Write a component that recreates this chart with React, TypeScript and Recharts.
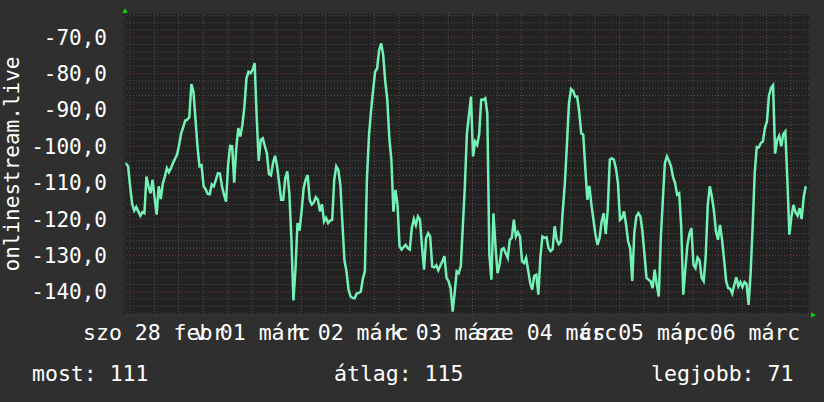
import React from 'react';
import { LineChart, Line, XAxis, YAxis, ReferenceLine, CartesianGrid } from 'recharts';

// half-hourly samples, starting Sat 28 Feb ~04:35
const values: number[] = [
  -104.5, -104.8, -105.5, -111, -115.8, -117.7, -116.7, -117.9, -119.1, -118.1,
  -118.4, -108.3, -111, -112.9, -109.2, -114.2, -118.8, -111, -114.5, -110.3,
  -108.3, -106, -107.1, -106, -104.6, -103.4, -102.3, -99.6, -96.4, -94.8,
  -92.9, -92.7, -92, -82.9, -84.9, -92.3, -100, -105.5, -105.2, -111,
  -111.8, -113.1, -113.2, -110.5, -111, -109.2, -107.4, -107.5, -111, -113.3,
  -115.2, -105.1, -99.9, -100, -110, -100.5, -95, -97.3, -94.1, -89.1,
  -81.3, -79.5, -79.9, -79, -77.1, -91.8, -104, -98.2, -97.8, -99.9,
  -101.9, -107.6, -108, -104.6, -102.6, -105.5, -110.1, -114.7, -114.7, -108.8,
  -106.9, -112.9, -125.2, -142.4, -133.9, -121.1, -123.2, -117.9, -111.5, -109.2,
  -107.9, -114.8, -116, -115.4, -114, -114.7, -117.9, -115.9, -120.7, -119.7,
  -121.1, -120.4, -120.2, -109.2, -105.5, -106.5, -110.6, -121.1, -131.4, -134.4,
  -139.4, -141.3, -141.7, -141.8, -140.5, -140.3, -140, -136.5, -134.4, -109.2,
  -97.3, -90.4, -84.9, -79.5, -78.6, -73.5, -71.7, -74.9, -82.2, -87.2,
  -97.8, -103.7, -118, -112, -116.1, -127.5, -128.4, -127.7, -127.1, -128,
  -128.4, -122.5, -120, -121.7, -119.3, -120.2, -127.5, -133.9, -125.2, -123.9,
  -124.8, -133.1, -133.3, -132.7, -134.1, -132.8, -131.6, -130.2, -136.2, -137.1,
  -139, -145.5, -140.3, -134.4, -134.9, -133, -122, -111, -96.4, -91.4,
  -86.3, -102.8, -98.7, -99.6, -96.7, -87.2, -87.2, -86.8, -91, -129.8,
  -136.7, -118.4, -127.5, -134.9, -132.6, -128.4, -128, -129.4, -130.7, -125.7,
  -125.2, -120.2, -124.8, -123.6, -124.8, -131.6, -132.1, -130.7, -134.1, -137.6,
  -139.4, -135.6, -135.3, -140.8, -130.5, -124.8, -125.2, -125, -128, -128.8,
  -128.3, -122, -125.7, -126.9, -126.2, -117.5, -110.1, -99.6, -88.2, -84.2,
  -84.7, -86.3, -86.3, -90.4, -96.4, -96.8, -106, -114.7, -110.9, -116.1,
  -120.2, -124.3, -127.1, -125.2, -120.7, -118.4, -124.1, -117.5, -103.7, -103.3,
  -103.7, -106, -110.1, -120.2, -119.7, -117.9, -121.6, -126.2, -128, -137,
  -123.9, -119.3, -118.4, -119.3, -123.4, -129.8, -136.2, -136.7, -137.1, -139,
  -133.9, -138.1, -141.3, -125.3, -114.7, -104.6, -102.8, -104, -105.5, -108.5,
  -110.1, -113.3, -112.9, -122, -140.8, -133.9, -127.3, -124.1, -122.5, -132.6,
  -133.5, -130.6, -131.4, -136.2, -137.1, -130.3, -116.1, -111, -113.8, -117.6,
  -123.4, -125.7, -121.6, -125.7, -131.2, -137.1, -139, -139.2, -140.5, -138.1,
  -136, -138.5, -137.4, -138.7, -137.3, -137.8, -143.6, -134.9, -122, -107.4,
  -100.2, -100.3, -99.1, -98.7, -95, -93.2, -86, -84, -83.2, -102,
  -98.2, -97.1, -100, -96.6, -95.9, -109.2, -124.3, -119.3, -116.1, -118.2,
  -119.1, -117, -120, -114, -111,
];

const yTicks = [-140, -130, -120, -110, -100, -90, -80, -70];
const minorYValues = [
  -146, -144, -142, -138, -136, -134, -132, -128, -126, -124, -122, -118, -116, -114, -112,
  -108, -106, -104, -102, -98, -96, -94, -92, -88, -86, -84, -82, -78, -76, -74, -72, -68, -66, -64,
];
const dayLabels = ['szo 28 febr', 'v 01 márc', 'h 02 márc', 'k 03 márc', 'sze 04 márc', 'cs 05 márc', 'p 06 márc'];
const labelHours = [7.4, 31.4, 55.4, 79.4, 103.4, 127.4, 151.4];
const dayBoundaryHours = [19.4, 43.4, 67.4, 91.4, 115.4, 139.4, 163.4];
const sixHourGridHours = [
  1.4, 7.4, 13.4, 25.4, 31.4, 37.4, 49.4, 55.4, 61.4, 73.4, 79.4, 85.4,
  97.4, 103.4, 109.4, 121.4, 127.4, 133.4, 145.4, 151.4, 157.4,
];
const legendItems = ['most: 111', 'átlag: 115', 'legjobb: 71'];
const axisTitle = 'onlinestream.live';
const sampleStepHours = 0.5;

const data = values.map((v, i) => ({ t: i * sampleStepHours, v }));

const FONT = "'DejaVu Sans Mono', monospace";
const BG = '#2f2f2f';
const PLOT_BG = '#222222';
const LINE = '#74f2b6';
const MINOR = '#505050';
const MAJOR = '#7a3c3c';

const YTick = (props: any) => {
  const { y, payload } = props;
  return (
    <text x={107} y={y + 7.5} textAnchor="end" fill="#ffffff" fontFamily={FONT} fontSize={21}>
      {payload.value.toFixed(1).replace('.', ',')}
    </text>
  );
};

const XTick = (props: any) => {
  const { x, payload } = props;
  const idx = labelHours.indexOf(payload.value);
  return (
    <text x={x} y={339.5} textAnchor="middle" fill="#ffffff" fontFamily={FONT} fontSize={21.5}>
      {idx >= 0 ? dayLabels[idx] : ''}
    </text>
  );
};

const legendX = [32, 334, 651];

export default function App() {
  return (
    <div style={{ position: 'absolute', left: 0, top: 0, width: 824, height: 402, background: BG, overflow: 'hidden' }}>
      <LineChart width={824} height={402} data={data} margin={{ top: 14, right: 15, left: 0, bottom: 0 }}>
        <CartesianGrid fill={PLOT_BG} stroke="none" />
        <XAxis
          dataKey="t"
          type="number"
          domain={[0, 167.8]}
          ticks={labelHours}
          tick={<XTick />}
          tickLine={false}
          axisLine={{ stroke: '#3c3c3c' }}
          height={87}
          allowDataOverflow
          interval={0}
        />
        <YAxis
          type="number"
          domain={[-146.4, -63.6]}
          ticks={yTicks}
          tick={<YTick />}
          tickLine={false}
          axisLine={{ stroke: '#2a2a2a', strokeWidth: 3 }}
          width={124}
          allowDataOverflow
          interval={0}
        />
        {minorYValues.map((v) => (
          <ReferenceLine key={'my' + v} y={v} stroke={MINOR} strokeDasharray="1 2" />
        ))}
        {sixHourGridHours.map((h) => (
          <ReferenceLine key={'mx' + h} x={h} stroke={MINOR} strokeDasharray="1 2" />
        ))}
        {yTicks.map((v) => (
          <ReferenceLine key={'My' + v} y={v} stroke={MAJOR} strokeDasharray="1 2" />
        ))}
        {dayBoundaryHours.map((h) => (
          <ReferenceLine key={'Mx' + h} x={h} stroke={MAJOR} strokeDasharray="1 2" />
        ))}
        <Line
          type="linear"
          dataKey="v"
          stroke={LINE}
          strokeWidth={2.5}
          dot={false}
          isAnimationActive={false}
        />
      </LineChart>
      <svg width={824} height={402} style={{ position: 'absolute', left: 0, top: 0, pointerEvents: 'none' }}>
        <polygon points="122.5,13 127.5,13 125,8" fill="#00dd00" />
        <polygon points="811,312.5 811,317.5 816,315" fill="#00dd00" />
        <text
          x={18.5}
          y={164}
          transform="rotate(-90 18.5 164)"
          textAnchor="middle"
          fill="#ffffff"
          fontFamily={FONT}
          fontSize={21}
        >
          {axisTitle}
        </text>
        {legendItems.map((s, i) => (
          <text key={s} x={legendX[i]} y={381} fill="#ffffff" fontFamily={FONT} fontSize={21.5}>
            {s}
          </text>
        ))}
      </svg>
    </div>
  );
}
